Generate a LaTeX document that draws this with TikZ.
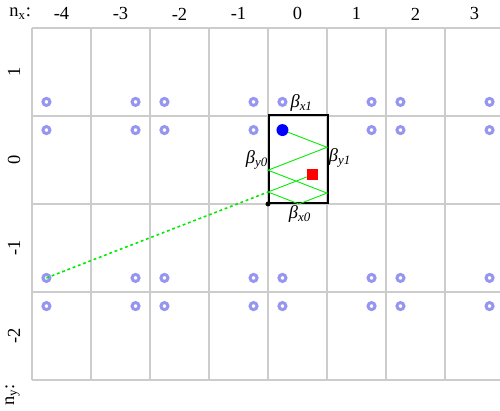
\documentclass[tikz,border=0pt]{standalone}
\usepackage{fontspec}
\setmainfont{Liberation Serif}
\usetikzlibrary{positioning}

\definecolor{ringblue}{RGB}{150,150,240}
\definecolor{raygreen}{RGB}{0,235,0}

\begin{document}
\begin{tikzpicture}[
  x=1.18cm, y=1.76cm,
  every node/.style={font=\fontsize{10.5}{12}\selectfont},
  gridline/.style={draw=gray!40, line width=0.8pt},
  cellbox/.style={draw=black, line width=0.9pt, minimum width=1.18cm, minimum height=1.76cm, inner sep=0pt, anchor=south west},
  mirror/.style={circle, draw=ringblue, line width=1.7pt, minimum size=4pt, inner sep=0pt},
  srcdot/.style={circle, fill=blue, minimum size=6.8pt, inner sep=0pt},
  rcvbox/.style={rectangle, fill=red, minimum size=6.2pt, inner sep=0pt},
  cornerdot/.style={circle, fill=black, minimum size=2.8pt, inner sep=0pt},
  ray/.style={draw=raygreen, line width=0.5pt},
  beta/.style={font=\fontsize{10.5}{12}\selectfont\itshape, inner sep=1pt}
]
  \useasboundingbox (-4.542,-2.352) rectangle (3.932,2.318);

  % grid of mirror cells
  \foreach \i in {-4,...,4}
    \draw[gridline] (\i,-2) -- (\i,2);
  \foreach \j in {-2,...,2}
    \draw[gridline] (-4,\j) -- (4,\j);

  % axis labels
  \node (nxlab) at (-4.2,2.16) {n\textsubscript{x}:};
  \foreach \i in {-4,...,3}
    \node (nx\i) at (\i+0.5,2.16) {\i};
  \node[rotate=90] (nylab) at (-4.33,-2.17) {n\textsubscript{y}:};
  \foreach \j in {-2,...,1}
    \node[rotate=90] (ny\j) at (-4.305,\j+0.5) {\j};

  % image sources
  \foreach \i in {-4,...,3}
    \foreach \j in {-2,...,1} {
      \pgfmathsetmacro\cx{\i+(mod(abs(\i),2)==1 ? 0.755 : 0.245)}
      \pgfmathsetmacro\cy{\j+(mod(abs(\j),2)==1 ? 0.16 : 0.84)}
      \ifnum\i=0 \ifnum\j=0 \else
        \node[mirror] at (\cx,\cy) {};
      \fi \else
        \node[mirror] at (\cx,\cy) {};
      \fi
    }

  \node[cellbox] (room) at (0,0) {};

  \coordinate (mirror) at (-3.755,-0.84);
  \coordinate (b1) at (1,0.644);
  \coordinate (b2) at (0,0.384);
  \coordinate (b3) at (1,0.124);
  \coordinate (b4) at (0.524,0);
  \coordinate (b5) at (0,0.136);

  \node[srcdot] (src) at (0.245,0.84) {};
  \node[rcvbox] (rcv) at (0.757,0.333) {};
  \node[cornerdot] (corner) at (0,0) {};

  \draw[ray] (src) -- (b1) -- (b2) -- (b3) -- (b4) -- (b5) -- (rcv);
  \draw[ray, line width=0.9pt, dash pattern=on 1.6pt off 1.6pt] (mirror) -- (b5);

  % wall coefficients
  \node[beta] (bx1) at (0.571,1.148) {β\textsubscript{x1}};
  \node[beta] (by0) at (-0.186,0.5) {β\textsubscript{y0}};
  \node[beta] (by1) at (1.22,0.523) {β\textsubscript{y1}};
  \node[beta] (bx0) at (0.542,-0.114) {β\textsubscript{x0}};
\end{tikzpicture}
\end{document}
